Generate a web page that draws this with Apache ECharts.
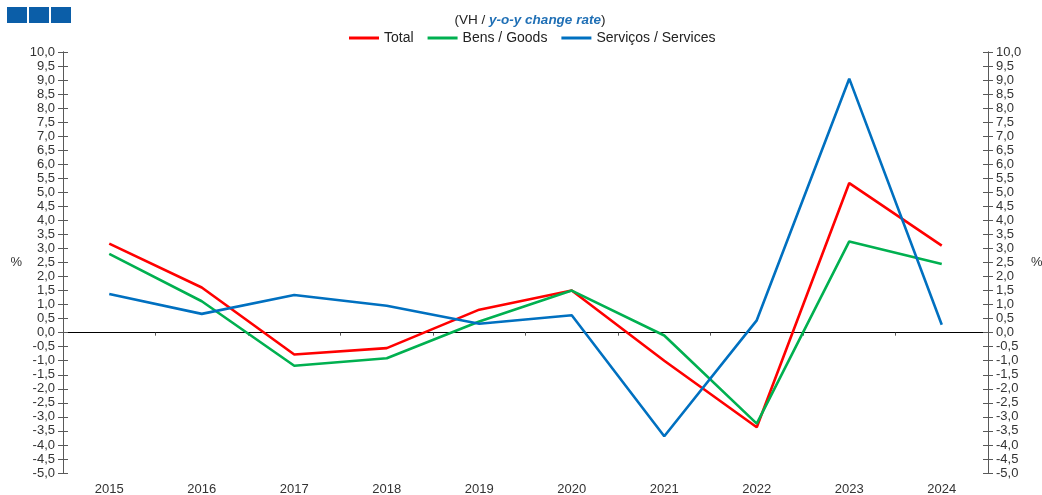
<!DOCTYPE html>
<html>
<head>
<meta charset="utf-8">
<script src="https://cdn.jsdelivr.net/npm/echarts@6/dist/echarts.min.js"></script>
<style>
  html, body { margin: 0; padding: 0; background: #fff; }
  #chart { width: 1042px; height: 495px; }
</style>
</head>
<body>
<div id="chart"></div>
<script>
// anos / years
var years = ['2015', '2016', '2017', '2018', '2019', '2020', '2021', '2022', '2023', '2024'];
// VH (%)
var total = [3.17, 1.61, -0.78, -0.55, 0.82, 1.5, -1.0, -3.37, 5.33, 3.1];
var goods = [2.81, 1.12, -1.18, -0.91, 0.4, 1.5, -0.1, -3.24, 3.25, 2.45];
var services = [1.38, 0.67, 1.34, 0.96, 0.32, 0.62, -3.69, 0.44, 9.05, 0.28];

var font = 'Liberation Sans, Arial, sans-serif';
var axisColor = '#595959';

function fmt(v) {
    return v.toFixed(1).replace('.', ',');
}

// eixo y: um com ticks para fora e outro com ticks para dentro (ticks cruzados)
function yAxis(pos, inside, withLabels, gap) {
    return {
        type: 'value',
        position: pos,
        min: -5,
        max: 10,
        interval: 0.5,
        name: withLabels ? '%' : '',
        nameLocation: 'middle',
        nameRotate: 0,
        nameGap: gap,
        nameTextStyle: { color: '#333', fontFamily: font, fontSize: 13 },
        axisLine: { show: true, onZero: false, lineStyle: { color: axisColor, width: 1 } },
        axisTick: { show: true, inside: inside, length: 5, lineStyle: { color: axisColor } },
        axisLabel: {
            show: withLabels,
            color: '#333',
            fontFamily: font,
            fontSize: 13,
            margin: 8,
            formatter: fmt
        },
        splitLine: { show: false }
    };
}

function lineSeries(name, data, color) {
    return {
        name: name,
        type: 'line',
        data: data,
        yAxisIndex: 0,
        xAxisIndex: 0,
        symbol: 'none',
        lineStyle: { color: color, width: 2.6 },
        itemStyle: { color: color },
        z: 3
    };
}

var chart = echarts.init(document.getElementById('chart'));
var option = {
    animation: false,
    backgroundColor: '#fff',
    title: {
        text: '(VH / {b|y-o-y change rate})',
        left: 525,
        textAlign: 'center',
        top: 8,
        textStyle: {
            color: '#222',
            fontFamily: font,
            fontSize: 13.5,
            fontWeight: 'normal',
            rich: {
                b: { color: '#1f6fb5', fontFamily: font, fontSize: 13.5, fontWeight: 'bold', fontStyle: 'italic' }
            }
        }
    },
    legend: {
        top: 26,
        left: 344,
        itemWidth: 30,
        itemHeight: 3,
        itemGap: 14,
        icon: 'rect',
        textStyle: { color: '#222', fontFamily: font, fontSize: 14 },
        data: ['Total', 'Bens / Goods', 'Serviços / Services']
    },
    graphic: [
        { type: 'rect', shape: { x: 7, y: 7, width: 20, height: 16 }, style: { fill: '#0b5ea8' } },
        { type: 'rect', shape: { x: 29, y: 7, width: 20, height: 16 }, style: { fill: '#0b5ea8' } },
        { type: 'rect', shape: { x: 51, y: 7, width: 20, height: 16 }, style: { fill: '#0b5ea8' } }
    ],
    grid: { left: 63, right: 54, top: 52, bottom: 22, outerBoundsMode: 'none', containLabel: false },
    xAxis: [
        {
            type: 'category',
            data: years,
            boundaryGap: true,
            axisLine: { show: false, onZero: false },
            axisTick: { show: false },
            axisLabel: { color: '#333', fontFamily: font, fontSize: 13, margin: 10 },
            splitLine: { show: false }
        },
        {
            // linha do zero com pequenos ticks
            type: 'category',
            data: years,
            boundaryGap: true,
            position: 'bottom',
            axisLine: { show: true, onZero: true, onZeroAxisIndex: 0, lineStyle: { color: '#000', width: 1 } },
            axisTick: { show: true, length: 3, lineStyle: { color: axisColor } },
            axisLabel: { show: false },
            splitLine: { show: false }
        }
    ],
    yAxis: [
        yAxis('left', false, true, 41),
        yAxis('right', false, true, 43),
        yAxis('left', true, false, 0),
        yAxis('right', true, false, 0)
    ],
    series: [
        lineSeries('Total', total, '#ff0000'),
        lineSeries('Bens / Goods', goods, '#00b050'),
        lineSeries('Serviços / Services', services, '#0070c0'),
        {
            name: 'zero',
            type: 'line',
            xAxisIndex: 1,
            yAxisIndex: 0,
            data: [],
            silent: true
        }
    ]
};
chart.setOption(option);
</script>
</body>
</html>
